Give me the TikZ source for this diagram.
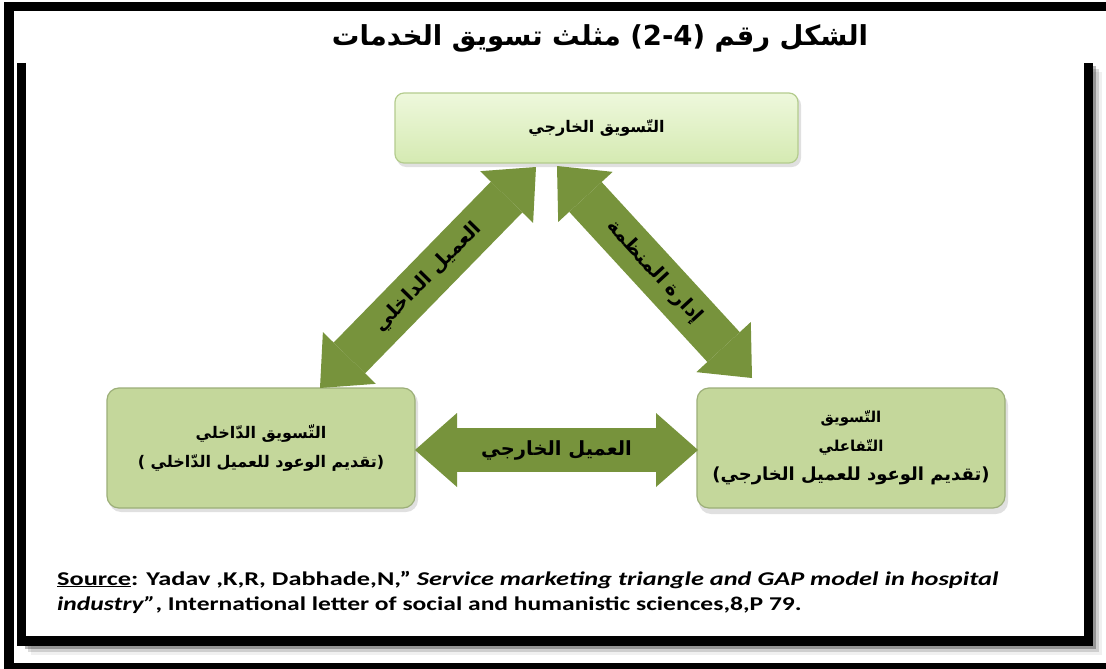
\documentclass[tikz,border=0pt]{standalone}
\usepackage{fontspec}
\setmainfont{Carlito}
\newfontfamily\arabicfont[Script=Arabic]{DejaVu Sans}
\TeXXeTstate=1
\usetikzlibrary{arrows.meta}
\definecolor{arrowgreen}{HTML}{77933C}
\definecolor{boxgreen}{HTML}{C4D79B}
\definecolor{boxedge}{HTML}{9CAF78}
\definecolor{topedge}{HTML}{B4CC8E}
\definecolor{topfillA}{HTML}{EEF8DC}
\definecolor{topfillB}{HTML}{D5EAB2}
\tikzset{
  framebar/.style={line width=9.5pt, line join=miter, line cap=butt},
  topbox/.style={rounded corners=9pt, draw=topedge, line width=1.2pt,
    top color=topfillA, bottom color=topfillB,
    minimum width=403pt, minimum height=70pt, align=center,
    font=\arabicfont\bfseries\fontsize{16}{18}\selectfont},
  sidebox/.style={rounded corners=12pt, draw=boxedge, line width=1.2pt,
    fill=boxgreen, minimum width=308pt, minimum height=120pt, align=center,
    font=\arabicfont\bfseries\fontsize{16}{29}\selectfont},
  boxshadow/.style={rounded corners=12pt, fill=black, opacity=0.12},
  bigarrow/.style={arrowgreen, line width=44pt,
    {Triangle[length=42pt,width=74pt,line width=0pt]}-{Triangle[length=42pt,width=74pt,line width=0pt]}},
  arrowlabel/.style={midway, sloped, text=black,
    font=\arabicfont\bfseries\fontsize{19.5}{22}\selectfont},
  source/.style={anchor=base west, inner sep=0pt, font=\bfseries\fontsize{19.5}{23}\selectfont},
}
\begin{document}
\begin{tikzpicture}[x=1pt,y=-1pt]
\clip (0,0) rectangle (1106,669);
\fill[white] (0,0) rectangle (1106,669);

% outer black frame
\draw[framebar] (9,6.5) rectangle (1130,668);

% inner open frame with a soft shadow on its right and bottom sides
\foreach \s/\o in {9/0.06, 6/0.14, 3/0.28}
  \draw[framebar, black, opacity=\o, shift={(\s,\s)}] (21.5,641) -- (1088.5,641) -- (1088.5,63);
\draw[framebar] (21.5,63) -- (21.5,641) -- (1088.5,641) -- (1088.5,63);

% title
\node[font=\arabicfont\bfseries\fontsize{27.5}{32}\selectfont] (title) at (600,38)
  {\beginR الشكل رقم \beginL(2-4)\endL{} مثلث تسويق الخدمات\endR};

% the three boxes
\fill[boxshadow, rounded corners=9pt] (397,96) rectangle (801,167);
\node[topbox] (ext) at (596.5,128) {\beginR التّسويق الخارجي\endR};

\fill[boxshadow] (109,391) rectangle (418,512);
\node[sidebox] (int) at (261,448)
  {\beginR التّسويق الدّاخلي\endR\\
   \beginR(تقديم الوعود للعميل الدّاخلي )\endR};

\fill[boxshadow] (699,393) rectangle (1008,514);
\node[sidebox, font=\arabicfont\bfseries\fontsize{15}{29}\selectfont] (inter) at (851,448)
  {\beginR التّسويق\endR\\
   \beginR التّفاعلي\endR\\
   {\arabicfont\bfseries\fontsize{18}{29}\selectfont\beginR(تقديم الوعود للعميل الخارجي)\endR}};

% tips of the block arrows
\coordinate (lb) at (320,388);
\coordinate (lt) at (536,167);
\coordinate (rt) at (557,166);
\coordinate (rb) at (752,378);
\coordinate (hl) at (415,450);
\coordinate (hr) at (698,450);

\draw[bigarrow] (lb) -- (lt) node[arrowlabel] {\beginR العميل الداخلي\endR};
\draw[bigarrow] (rt) -- (rb) node[arrowlabel] {\beginR إدارة المنظمة\endR};
\draw[bigarrow] (hl) -- (hr) node[arrowlabel] {\beginR العميل الخارجي\endR};

% source line
\node[source] (src1) at (57,585)
  {\scalebox{1.35}[1]{\underline{Source}: Yadav ,K,R, Dabhade,N,” \textit{Service marketing triangle and GAP model in hospital}}};
\node[source] (src2) at (57,610)
  {\scalebox{1.31}[1]{\textit{industry”}, International letter of social and humanistic sciences,8,P 79.}};
\end{tikzpicture}
\end{document}
